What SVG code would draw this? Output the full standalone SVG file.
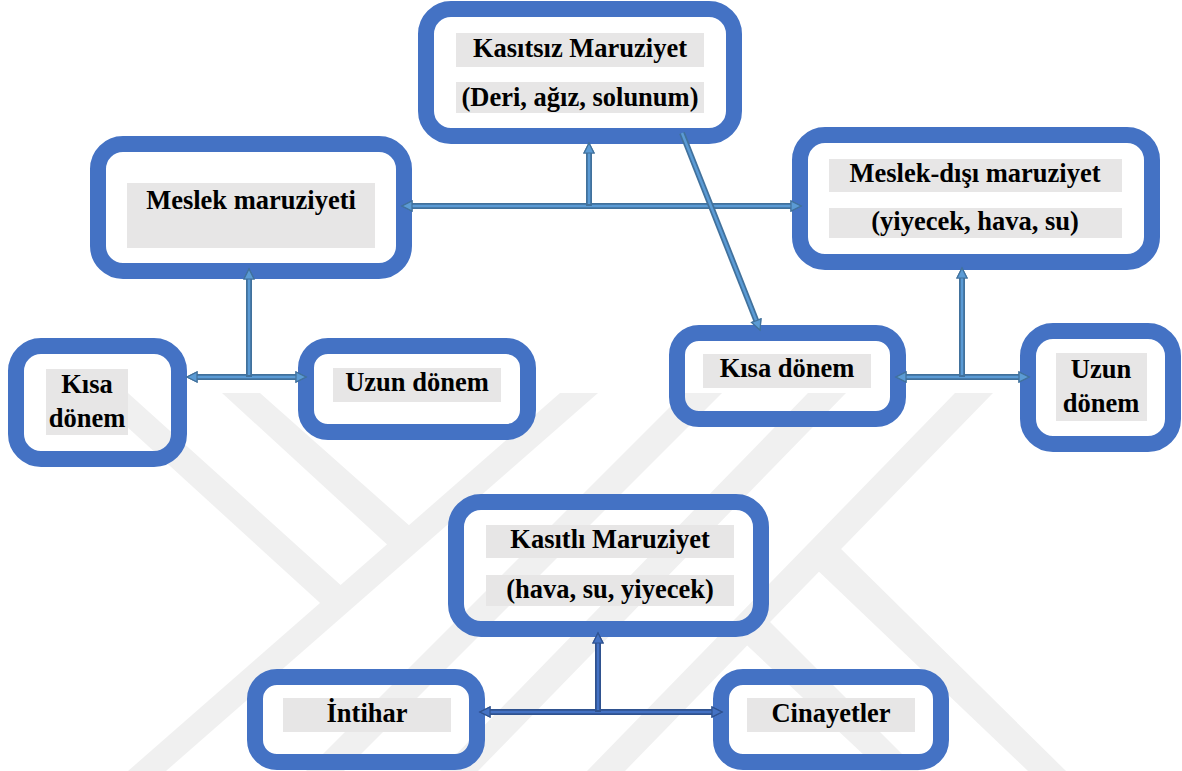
<svg xmlns="http://www.w3.org/2000/svg" width="1182" height="771" viewBox="0 0 1182 771">
  <style>
    .box { fill: none; stroke: #4472c4; stroke-width: 16; }
    .bg { fill: #e7e6e6; }
    .t { font-family: 'Liberation Serif', 'Times New Roman', Times, 'DejaVu Serif', serif; font-weight: 700; font-size: 26.5px; fill: #000; text-anchor: middle; }
    .wm { fill: #f0f0f0; }
    .so { fill: none; stroke: #41719c; stroke-width: 6; }
    .si { fill: none; stroke: #5b9bd5; stroke-width: 2.5; }
    .so2 { fill: none; stroke: #2f528f; stroke-width: 6; }
    .si2 { fill: none; stroke: #4472c4; stroke-width: 2.5; }
  </style>
  <defs>
    <marker id="ah" viewBox="0 0 10 10" refX="3" refY="5" markerWidth="10" markerHeight="10" markerUnits="userSpaceOnUse" orient="auto-start-reverse" overflow="visible">
      <path d="M0,0 L10,5 L0,10 Z" fill="#5b9bd5" stroke="#41719c" stroke-width="1.2"/>
    </marker>
    <marker id="ah2" viewBox="0 0 10 10" refX="3" refY="5" markerWidth="10" markerHeight="10" markerUnits="userSpaceOnUse" orient="auto-start-reverse" overflow="visible">
      <path d="M0,0 L10,5 L0,10 Z" fill="#4472c4" stroke="#2f528f" stroke-width="1.2"/>
    </marker>
    <clipPath id="wmclip"><rect x="0" y="393" width="1182" height="378"/></clipPath>
  </defs>

  <rect x="0" y="0" width="1182" height="771" fill="#ffffff"/>

  <g id="watermark" clip-path="url(#wmclip)">
    <polygon class="wm" points="560,393 598,393 166,771 128,771"/>
    <polygon class="wm" points="222,393 260,393 420,535 404,560"/>
    <polygon class="wm" points="90,393 128,393 355,598 330,612"/>
    <polygon class="wm" points="955,393 993,393 625,771 587,771"/>
    <polygon class="wm" points="808,393 846,393 478,771 440,771"/>
    <polygon class="wm" points="684,393 722,393 344,771 306,771"/>
    <polygon class="wm" points="835,543 1066,771 1028,771 812,565"/>
    <polygon class="wm" points="760,612 919,771 881,771 737,636"/>
  </g>

  <g id="n-kasitsiz">
    <rect class="box" x="426" y="9" width="308" height="127" rx="25"/>
    <rect class="bg" x="456" y="33" width="248" height="34"/>
    <rect class="bg" x="456" y="82" width="248" height="31"/>
    <text class="t" x="580" y="57">Kasıtsız Maruziyet</text>
    <text class="t" x="580" y="106">(Deri, ağız, solunum)</text>
  </g>

  <g id="n-meslek">
    <rect class="box" x="98" y="144" width="306" height="127" rx="25"/>
    <rect class="bg" x="127" y="183" width="248" height="65"/>
    <text class="t" x="251" y="209">Meslek maruziyeti</text>
  </g>

  <g id="n-meslekdisi">
    <rect class="box" x="800" y="135" width="352" height="127" rx="25"/>
    <rect class="bg" x="829" y="159" width="293" height="33"/>
    <rect class="bg" x="829" y="208" width="293" height="30"/>
    <text class="t" x="975" y="182">Meslek-dışı maruziyet</text>
    <text class="t" x="975" y="230">(yiyecek, hava, su)</text>
  </g>

  <g id="n-kisa-left">
    <rect class="box" x="16" y="346" width="163" height="113" rx="25"/>
    <rect class="bg" x="46" y="369" width="82" height="66"/>
    <text class="t" x="87" y="393">Kısa</text>
    <text class="t" x="87" y="427">dönem</text>
  </g>

  <g id="n-uzun-left">
    <rect class="box" x="306" y="346" width="222" height="86" rx="22"/>
    <rect class="bg" x="333" y="368" width="168" height="34"/>
    <text class="t" x="417" y="391">Uzun dönem</text>
  </g>

  <g id="n-kisa-right">
    <rect class="box" x="677" y="333" width="221" height="86" rx="22"/>
    <rect class="bg" x="703" y="354" width="168" height="34"/>
    <text class="t" x="787" y="377">Kısa dönem</text>
  </g>

  <g id="n-uzun-right">
    <rect class="box" x="1028" y="331" width="145" height="113" rx="25"/>
    <rect class="bg" x="1056" y="353" width="91" height="68"/>
    <text class="t" x="1101" y="378">Uzun</text>
    <text class="t" x="1101" y="412">dönem</text>
  </g>

  <g id="n-kasitli">
    <rect class="box" x="456" y="502" width="305" height="127" rx="25"/>
    <rect class="bg" x="486" y="525" width="248" height="33"/>
    <rect class="bg" x="486" y="575" width="248" height="31"/>
    <text class="t" x="610" y="548">Kasıtlı Maruziyet</text>
    <text class="t" x="610" y="598">(hava, su, yiyecek)</text>
  </g>

  <g id="n-intihar">
    <rect class="box" x="255" y="677" width="222" height="85" rx="22"/>
    <rect class="bg" x="283" y="698" width="168" height="34"/>
    <text class="t" x="367" y="722">İntihar</text>
  </g>

  <g id="n-cinayetler">
    <rect class="box" x="721" y="677" width="220" height="85" rx="22"/>
    <rect class="bg" x="747" y="698" width="168" height="34"/>
    <text class="t" x="831" y="722">Cinayetler</text>
  </g>

  <g id="connectors">
    <line class="so" x1="409" y1="206" x2="794" y2="206" marker-start="url(#ah)" marker-end="url(#ah)"/>
    <line class="si" x1="409" y1="206" x2="794" y2="206" marker-start="url(#ah)" marker-end="url(#ah)"/>
    <line class="so" x1="589" y1="206" x2="589" y2="150" marker-end="url(#ah)"/>
    <line class="si" x1="589" y1="204" x2="589" y2="150" marker-end="url(#ah)"/>
    <line class="so" x1="682" y1="133" x2="757.4" y2="323.5" marker-end="url(#ah)"/>
    <line class="si" x1="682" y1="133" x2="757.4" y2="323.5" marker-end="url(#ah)"/>
    <line class="so" x1="194" y1="377" x2="299" y2="377" marker-start="url(#ah)" marker-end="url(#ah)"/>
    <line class="si" x1="194" y1="377" x2="299" y2="377" marker-start="url(#ah)" marker-end="url(#ah)"/>
    <line class="so" x1="249" y1="377" x2="249" y2="276" marker-end="url(#ah)"/>
    <line class="si" x1="249" y1="375" x2="249" y2="276" marker-end="url(#ah)"/>
    <line class="so" x1="903" y1="377" x2="1022" y2="377" marker-start="url(#ah)" marker-end="url(#ah)"/>
    <line class="si" x1="903" y1="377" x2="1022" y2="377" marker-start="url(#ah)" marker-end="url(#ah)"/>
    <line class="so" x1="962" y1="377" x2="962" y2="275" marker-end="url(#ah)"/>
    <line class="si" x1="962" y1="375" x2="962" y2="275" marker-end="url(#ah)"/>
    <line class="so2" x1="487" y1="712" x2="715" y2="712" marker-start="url(#ah2)" marker-end="url(#ah2)"/>
    <line class="si2" x1="487" y1="712" x2="715" y2="712" marker-start="url(#ah2)" marker-end="url(#ah2)"/>
    <line class="so2" x1="598" y1="712" x2="598" y2="640" marker-end="url(#ah2)"/>
    <line class="si2" x1="598" y1="710" x2="598" y2="640" marker-end="url(#ah2)"/>
  </g>
</svg>
